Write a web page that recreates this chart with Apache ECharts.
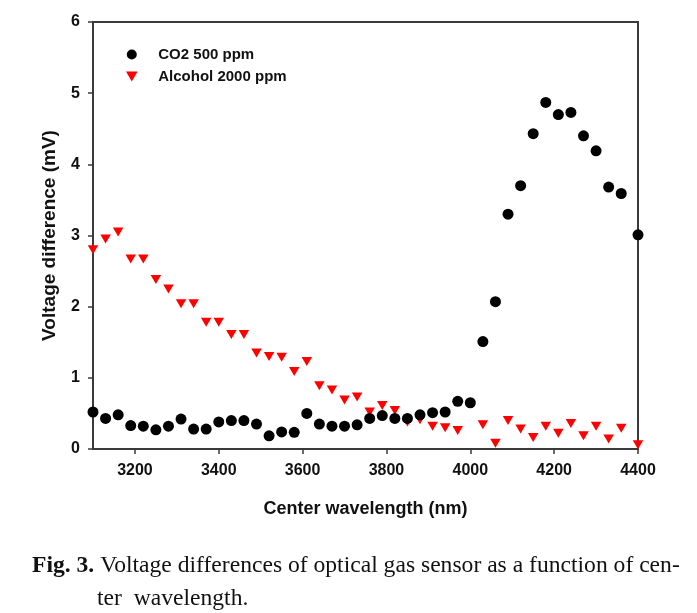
<!DOCTYPE html>
<html>
<head>
<meta charset="utf-8">
<script src="https://cdn.jsdelivr.net/npm/echarts@6/dist/echarts.min.js"></script>
<style>
html,body{margin:0;padding:0;background:#fff;}
#chart{width:697px;height:613px;}
</style>
</head>
<body>
<div id="chart"></div>
<script>
// Center wavelength (nm)
var wavelengths = [3100,3130,3160,3190,3220,3250,3280,3310,3340,3370,3400,3430,3460,3490,3520,3550,3580,3610,3640,3670,3700,3730,3760,3790,3820,3850,3880,3910,3940,3970,4000,4030,4060,4090,4120,4150,4180,4210,4240,4270,4300,4330,4360,4400];
// Voltage difference (mV) - CO2 500 ppm
var co2Values = [0.52,0.43,0.48,0.33,0.32,0.27,0.32,0.42,0.28,0.28,0.38,0.40,0.40,0.35,0.185,0.24,0.235,0.50,0.35,0.32,0.32,0.34,0.43,0.47,0.43,0.43,0.48,0.51,0.52,0.67,0.65,1.51,2.07,3.30,3.70,4.43,4.87,4.70,4.73,4.40,4.19,3.68,3.59,3.01];
// Voltage difference (mV) - Alcohol 2000 ppm (no point at 4000 nm)
var alcoholValues = [2.80,2.95,3.05,2.67,2.67,2.38,2.25,2.04,2.04,1.78,1.78,1.61,1.61,1.35,1.30,1.29,1.09,1.23,0.89,0.83,0.69,0.73,0.52,0.61,0.54,0.38,0.41,0.32,0.30,0.26,null,0.34,0.08,0.40,0.28,0.16,0.32,0.22,0.36,0.185,0.32,0.14,0.29,0.06];
var xTickValues = [3200,3400,3600,3800,4000,4200,4400];
var seriesNames = ['CO2 500 ppm','Alcohol 2000 ppm'];
var captionLine1 = '{b|Fig. 3.} Voltage differences of optical gas sensor as a function of cen-';
var captionLine2 = 'ter  wavelength.';

function pairs(xs, ys){
  var out = [];
  for (var i = 0; i < xs.length; i++) { if (ys[i] !== null) out.push([xs[i], ys[i]]); }
  return out;
}

var sansFont = "'Liberation Sans', Arial, Helvetica, sans-serif";
var serifFont = "'Liberation Serif', 'Times New Roman', serif";
var triDown = 'path://M0,0L2,0L1,1.732Z';
var axisCol = '#3a3a3a';

var chart = echarts.init(document.getElementById('chart'), null, {renderer:'canvas'});
chart.setOption({
  backgroundColor: '#ffffff',
  animation: false,
  grid: {left: 93, right: 59, top: 22, bottom: 164, show: true, borderColor: axisCol, borderWidth: 2, backgroundColor: 'transparent'},
  legend: {
    orient: 'vertical', left: 121, top: 42,
    itemWidth: 43, itemHeight: 10, itemGap: 7,
    symbolKeepAspect: true,
    textStyle: {fontFamily: sansFont, fontWeight: 'bold', fontSize: 15, color: '#111', lineHeight: 15},
    data: [{name: seriesNames[0], icon: 'circle'}, {name: seriesNames[1], icon: triDown}]
  },
  xAxis: {
    type: 'value', min: 3100, max: 4400,
    name: 'Center wavelength (nm)', nameLocation: 'middle', nameGap: 51,
    nameTextStyle: {fontFamily: sansFont, fontWeight: 'bold', fontSize: 18, color: '#111'},
    axisLine: {show: true, lineStyle: {color: axisCol, width: 2}},
    axisTick: {show: true, length: 5, inside: false, lineStyle: {color: axisCol, width: 1.5}, customValues: xTickValues},
    axisLabel: {margin: 14, fontFamily: sansFont, fontWeight: 'bold', fontSize: 16, color: '#111', customValues: xTickValues, showMinLabel: true, showMaxLabel: true,
      formatter: function (v) { return String(v); }},
    splitLine: {show: false}
  },
  yAxis: {
    type: 'value', min: 0, max: 6, interval: 1,
    name: 'Voltage difference (mV)', nameLocation: 'middle', nameGap: 34, nameRotate: 90,
    nameTextStyle: {fontFamily: sansFont, fontWeight: 'bold', fontSize: 19, color: '#111'},
    axisLine: {show: true, lineStyle: {color: axisCol, width: 2}},
    axisTick: {show: true, length: 5, inside: false, lineStyle: {color: axisCol, width: 1.5}},
    axisLabel: {margin: 13, fontFamily: sansFont, fontWeight: 'bold', fontSize: 16, color: '#111',
      formatter: function (v) { return String(v); }},
    splitLine: {show: false}
  },
  series: [
    {
      name: seriesNames[0], type: 'scatter', data: pairs(wavelengths, co2Values),
      symbol: 'circle', symbolSize: 11,
      itemStyle: {color: '#000000', opacity: 1},
      clip: false, z: 3
    },
    {
      name: seriesNames[1], type: 'scatter', data: pairs(wavelengths, alcoholValues),
      symbol: triDown, symbolSize: [10.5, 9],
      itemStyle: {color: '#ff0000', opacity: 1},
      clip: false, z: 2
    }
  ],
  graphic: [
    {type: 'text', left: 32, top: 554, style: {text: captionLine1, fontFamily: serifFont, fontSize: 23.6, fill: '#111', rich: {b: {fontWeight: 'bold', fontFamily: serifFont, fontSize: 23.6, fill: '#111'}}}},
    {type: 'text', left: 97, top: 587, style: {text: captionLine2, fontFamily: serifFont, fontSize: 23.6, fill: '#111'}}
  ]
});
</script>
</body>
</html>
